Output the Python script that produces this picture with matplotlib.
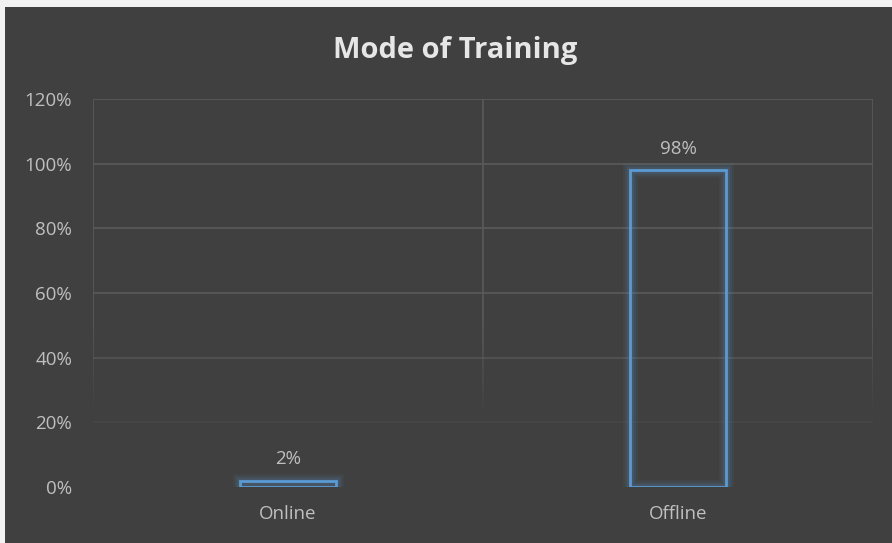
import matplotlib.pyplot as plt
from matplotlib.patches import Rectangle
import numpy as np

categories = ['Online', 'Offline']
values = [2, 98]
yticks = [0, 20, 40, 60, 80, 100, 120]

bg = '#404040'
edge = '#5b9bd5'
txt = '#bfbfbf'

plt.rcParams['font.family'] = ['Open Sans', 'DejaVu Sans']

fig = plt.figure(figsize=(8.92, 5.43), dpi=100)
fig.patch.set_facecolor('#f2f2f2')
fig.patches.append(Rectangle((5 / 892, 0), 1, 1 - 7 / 543, transform=fig.transFigure,
                             facecolor=bg, edgecolor='none', zorder=-5))

ax = fig.add_axes([93 / 892, 56 / 543, 780 / 892, 388 / 543])
ax.set_zorder(1)
ax.set_facecolor(bg)
ax.set_xlim(0, 2)
ax.set_ylim(0, 120)

# gridlines fading out toward the bottom
for y in yticks[1:]:
    a = min(1.0, max(0.0, (y - 10) / 40))
    ax.axhline(y, color='#5a5a5a', lw=1.2, alpha=a, zorder=1)
for x in [0, 1, 2]:
    segs = np.linspace(20, 120, 41)
    for y0, y1 in zip(segs[:-1], segs[1:]):
        a = min(1.0, max(0.0, (y0 - 20) / 30))
        ax.plot([x, x], [y0, y1], color='#5a5a5a', lw=1.2, alpha=a,
                solid_capstyle='butt', zorder=1)

xpos = np.arange(len(categories)) + 0.5
w = 0.245
for x, v in zip(xpos, values):
    for lw, a in [(11, 0.06), (8, 0.08), (5, 0.14)]:
        ax.add_patch(Rectangle((x - w / 2, 0), w, v, fill=False, edgecolor=edge,
                               lw=lw, alpha=a, zorder=2))
    ax.add_patch(Rectangle((x - w / 2, 0), w, v, fill=False, edgecolor=edge,
                           lw=2, zorder=3))
    ax.annotate(f'{v}%', xy=(x, v), xytext=(0, 9), textcoords='offset points',
                ha='center', va='bottom', color=txt, fontsize=13.5)

for s in ax.spines.values():
    s.set_visible(False)
ax.set_xticks(xpos)
ax.set_xticklabels(categories)
ax.set_yticks(yticks)
ax.set_yticklabels([f'{t}%' for t in yticks])
ax.tick_params(length=0, colors=txt, labelsize=13.5)
ax.tick_params(axis='y', pad=15)
ax.tick_params(axis='x', pad=13)

fig.text(455 / 892, 1 - 58 / 543, 'Mode of Training', ha='center', va='baseline',
         color='#e6e6e6', fontsize=21, fontweight='bold')

fig.savefig('out.png', dpi=100, facecolor=fig.get_facecolor())
